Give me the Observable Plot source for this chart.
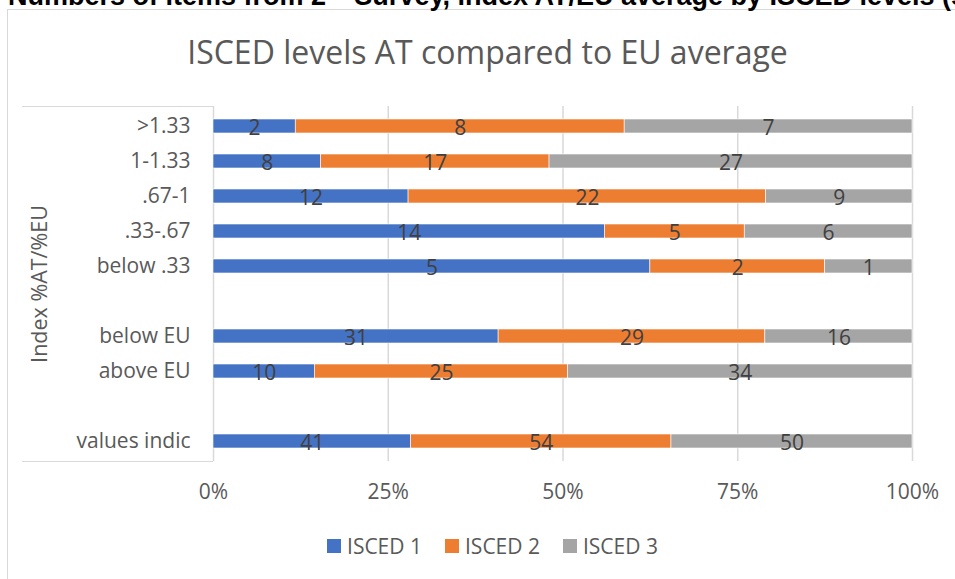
<!DOCTYPE html>
<html>
<head>
<meta charset="utf-8">
<script src="https://cdn.jsdelivr.net/npm/d3@7"></script>
<script src="https://cdn.jsdelivr.net/npm/@observablehq/plot@0.6"></script>
<style>
  html, body { margin: 0; padding: 0; background: #fff; }
  #wrap { position: relative; width: 955px; height: 579px; overflow: hidden; background: #fff; font-family: "Open Sans", sans-serif; }
  #border { position: absolute; left: 7px; top: 9px; width: 1000px; height: 1000px; border: 1px solid #d9d9d9; box-sizing: border-box; }
  #labels { position: absolute; left: 0; top: 0; pointer-events: none; }
  #chart { position: absolute; left: 0; top: 0; }
  .hline { position: absolute; left: 22px; width: 191px; height: 1px; background: #d9d9d9; }
  #legend { position: absolute; left: 0; width: 985px; top: 535px; height: 22px; display: flex; justify-content: center; align-items: center; gap: 23px; color: #595959; font-size: 21px; }
  #legend .item { display: flex; align-items: center; }
  #legend .sw { width: 14px; height: 14px; margin-right: 6px; }
</style>
</head>
<body>
<div id="wrap">
  <div id="border"></div>
  <div class="hline" style="top:106px"></div>
  <div class="hline" style="top:461px"></div>
  <div id="chart"></div>
  <svg id="labels" width="955" height="579">
    <text x="8" y="5" font-family="Liberation Sans, Arial, sans-serif" font-weight="bold" font-size="27" fill="#000">Numbers of items from 2<tspan font-size="17" baseline-shift="super">nd</tspan> Survey, index AT/EU average by ISCED levels (shares)</text>
    <text x="487.5" y="64" text-anchor="middle" font-family="Open Sans, sans-serif" font-size="32" fill="#595959">ISCED levels AT compared to EU average</text>
  </svg>
  <div id="legend"></div>
</div>
<script>
// Index classes (top to bottom); the two blank entries are spacer rows
const categories = [">1.33", "1-1.33", ".67-1", ".33-.67", "below .33", "", "below EU", "above EU", " ", "values indic"];
const levels = ["ISCED 1", "ISCED 2", "ISCED 3"];
const colors = ["#4472C4", "#ED7D31", "#A5A5A5"];

// Number of items per class and ISCED level
const isced1 = [2, 8, 12, 14, 5, null, 31, 10, null, 41];
const isced2 = [8, 17, 22, 5, 2, null, 29, 25, null, 54];
const isced3 = [7, 27, 9, 6, 1, null, 16, 34, null, 50];

const xTicks = [0, 0.25, 0.5, 0.75, 1];
const axisTitle = "Index %AT/%EU";

const series = [isced1, isced2, isced3];
const rows = [];
categories.forEach((cat, i) => {
  if (isced1[i] == null) return;
  levels.forEach((level, j) => rows.push({cat, level, n: series[j][i]}));
});

const font = "'Open Sans', sans-serif";

const chart = Plot.plot({
  width: 955,
  height: 579,
  marginLeft: 213,
  marginRight: 43,
  marginTop: 106,
  marginBottom: 118,
  style: {fontFamily: font, fontSize: "21px", color: "#595959", background: "transparent"},
  x: {domain: [0, 1], axis: null},
  y: {domain: categories, paddingInner: 0.59, paddingOuter: 0.295, axis: null},
  color: {domain: levels, range: colors},
  marks: [
    Plot.gridX(xTicks, {stroke: "#d9d9d9", strokeOpacity: 1, strokeWidth: 1.5}),
    Plot.barX(rows, Plot.stackX({x: "n", y: "cat", fill: "level", offset: "normalize", stroke: "#fff", strokeWidth: 0.6})),
    Plot.text(rows, Plot.stackX({x: "n", y: "cat", text: "n", offset: "normalize", fill: "#404040", fontSize: 21, dy: 2})),
    Plot.axisY({tickSize: 0, tickPadding: 23, label: null, fill: "#595959", fontSize: 21}),
    Plot.axisX({ticks: xTicks, tickFormat: d3.format(".0%"), tickSize: 0, tickPadding: 23, label: null, fill: "#595959", fontSize: 21}),
    Plot.text([axisTitle], {frameAnchor: "left", textAnchor: "middle", rotate: -90, dx: -173, fill: "#595959", fontSize: 21.5})
  ]
});
document.getElementById("chart").appendChild(chart);

const legend = d3.select("#legend");
levels.forEach((l, i) => {
  const item = legend.append("div").attr("class", "item");
  item.append("div").attr("class", "sw").style("background", colors[i]);
  item.append("span").text(l);
});
</script>
</body>
</html>
